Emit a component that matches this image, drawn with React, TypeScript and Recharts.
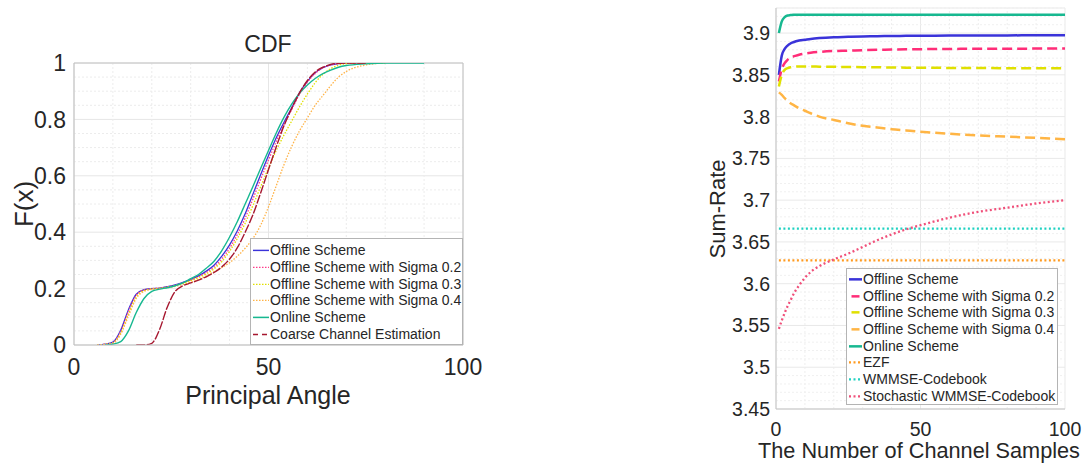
import React from 'react';
import { LineChart, Line, XAxis, YAxis, CartesianGrid, ReferenceLine } from 'recharts';

const FONT = '"Liberation Sans", Arial, Helvetica, sans-serif';
const TEXT = '#262626';

// ---------------- Left panel: CDF of the principal angle ----------------
const cdfAngle = [6, 8, 10, 12, 14, 16, 18, 20, 22, 24, 26, 28, 30, 32, 34, 36, 38, 40, 42, 44, 46, 48, 50, 52, 54, 56, 58, 60, 62, 64, 66, 68, 70, 75, 80, 90];
const cdfOffline = [0, 0.003, 0.01, 0.052, 0.125, 0.18, 0.196, 0.2, 0.202, 0.207, 0.213, 0.222, 0.232, 0.245, 0.262, 0.283, 0.315, 0.355, 0.405, 0.465, 0.535, 0.605, 0.672, 0.735, 0.79, 0.842, 0.895, 0.935, 0.965, 0.983, 0.993, 0.998, 1, 1, null, null];
const cdfSigma02 = [0, 0.003, 0.009, 0.048, 0.12, 0.177, 0.195, 0.2, 0.202, 0.206, 0.212, 0.22, 0.23, 0.242, 0.257, 0.276, 0.305, 0.343, 0.392, 0.45, 0.518, 0.588, 0.656, 0.722, 0.782, 0.836, 0.89, 0.932, 0.963, 0.983, 0.993, 0.998, 1, 1, null, null];
const cdfSigma03 = [0, 0.002, 0.007, 0.042, 0.11, 0.17, 0.193, 0.199, 0.201, 0.205, 0.21, 0.218, 0.228, 0.239, 0.252, 0.27, 0.296, 0.332, 0.378, 0.432, 0.495, 0.562, 0.628, 0.69, 0.745, 0.795, 0.845, 0.89, 0.93, 0.96, 0.98, 0.992, 0.998, 1, 1, null];
const cdfSigma04 = [0, 0.002, 0.006, 0.038, 0.103, 0.165, 0.19, 0.197, 0.2, 0.203, 0.208, 0.215, 0.222, 0.232, 0.245, 0.26, 0.275, 0.292, 0.315, 0.343, 0.378, 0.425, 0.49, 0.565, 0.64, 0.705, 0.76, 0.805, 0.85, 0.885, 0.92, 0.95, 0.97, 0.993, 1, null];
const cdfOnline = [null, 0, 0.003, 0.012, 0.05, 0.115, 0.165, 0.19, 0.198, 0.203, 0.21, 0.22, 0.235, 0.25, 0.272, 0.297, 0.335, 0.383, 0.438, 0.5, 0.562, 0.627, 0.69, 0.752, 0.808, 0.855, 0.893, 0.922, 0.945, 0.962, 0.975, 0.985, 0.991, 0.997, 1, 1];
const cdfCoarse = [null, null, null, null, null, 0, 0, 0.006, 0.055, 0.135, 0.19, 0.21, 0.22, 0.23, 0.242, 0.257, 0.277, 0.305, 0.345, 0.4, 0.462, 0.54, 0.622, 0.703, 0.778, 0.84, 0.895, 0.938, 0.968, 0.985, 0.995, 0.999, 1, 1, null, null];

const cdfXTicks = [0, 50, 100];
const cdfYTicks = [0, 0.2, 0.4, 0.6, 0.8, 1];
const cdfMinorX = [10, 20, 30, 40, 60, 70, 80, 90];
const cdfMinorY = [0.05, 0.1, 0.15, 0.25, 0.3, 0.35, 0.45, 0.5, 0.55, 0.65, 0.7, 0.75, 0.85, 0.9, 0.95];

// ---------------- Right panel: Sum-Rate vs number of channel samples ----------------
const samples = [1, 2, 3, 4, 5, 6, 8, 10, 12, 15, 20, 25, 30, 35, 40, 45, 50, 60, 70, 80, 90, 100];
const rateOffline = [3.85, 3.873, 3.881, 3.885, 3.8875, 3.889, 3.891, 3.892, 3.893, 3.894, 3.895, 3.8955, 3.896, 3.8962, 3.8965, 3.8967, 3.8968, 3.897, 3.8971, 3.8972, 3.8973, 3.8974];
const rateSigma02 = [3.842, 3.857, 3.864, 3.868, 3.871, 3.872, 3.874, 3.8755, 3.8765, 3.8775, 3.8785, 3.879, 3.8795, 3.88, 3.8802, 3.8805, 3.8807, 3.881, 3.8812, 3.8813, 3.8814, 3.8815];
const rateSigma03 = [3.836, 3.85, 3.856, 3.858, 3.859, 3.8595, 3.86, 3.86, 3.86, 3.8598, 3.8596, 3.8594, 3.8592, 3.859, 3.8588, 3.8586, 3.8585, 3.8583, 3.8581, 3.858, 3.8579, 3.8578];
const rateSigma04 = [3.829, 3.826, 3.822, 3.819, 3.816, 3.814, 3.81, 3.807, 3.804, 3.8, 3.796, 3.792, 3.789, 3.787, 3.785, 3.7835, 3.782, 3.7795, 3.7775, 3.776, 3.7745, 3.773];
const rateOnline = [3.9, 3.914, 3.919, 3.921, 3.9215, 3.922, 3.922, 3.922, 3.922, 3.922, 3.922, 3.922, 3.922, 3.922, 3.922, 3.922, 3.922, 3.922, 3.922, 3.922, 3.922, 3.922];
const rateStochastic = [3.546, 3.556, 3.565, 3.573, 3.58, 3.587, 3.598, 3.607, 3.614, 3.621, 3.629, 3.636, 3.644, 3.652, 3.659, 3.665, 3.67, 3.679, 3.686, 3.691, 3.696, 3.7];
const flatSamples = [1, 100];
const rateEZF = [3.628, 3.628];
const rateWMMSE = [3.666, 3.666];

const rateXTicks = [0, 50, 100];
const rateYTicks = [3.45, 3.5, 3.55, 3.6, 3.65, 3.7, 3.75, 3.8, 3.85, 3.9];
const rateMinorX = [10, 20, 30, 40, 60, 70, 80, 90];
const rateMinorY = [3.46, 3.47, 3.48, 3.49, 3.51, 3.52, 3.53, 3.54, 3.56, 3.57, 3.58, 3.59, 3.61, 3.62, 3.63, 3.64, 3.66, 3.67, 3.68, 3.69, 3.71, 3.72, 3.73, 3.74, 3.76, 3.77, 3.78, 3.79, 3.81, 3.82, 3.83, 3.84, 3.86, 3.87, 3.88, 3.89, 3.91, 3.92, 3.93];

const cdfData = cdfAngle.map((x, i) => ({
  x,
  offline: cdfOffline[i],
  s02: cdfSigma02[i],
  s03: cdfSigma03[i],
  s04: cdfSigma04[i],
  online: cdfOnline[i],
  coarse: cdfCoarse[i],
}));

const rateData = samples.map((x, i) => ({
  x,
  offline: rateOffline[i],
  s02: rateSigma02[i],
  s03: rateSigma03[i],
  s04: rateSigma04[i],
  online: rateOnline[i],
  stoch: rateStochastic[i],
}));
const ezfData = flatSamples.map((x, i) => ({ x, y: rateEZF[i] }));
const wmmseData = flatSamples.map((x, i) => ({ x, y: rateWMMSE[i] }));

const fmt = (v: number) => String(Number(v.toFixed(2)));

type Series = { key: string; name: string; color: string; width: number; dash?: string; legendDash?: string; legendLen?: number };

const cdfSeries: Series[] = [
  { key: 'offline', name: 'Offline Scheme', color: '#3a33d9', width: 1.3 },
  { key: 's02', name: 'Offline Scheme with Sigma 0.2', color: '#ff3d8b', width: 1.3, dash: '1.5 1.5', legendDash: '1.5 1.5' },
  { key: 's03', name: 'Offline Scheme with Sigma 0.3', color: '#e0e000', width: 1.3, dash: '1.5 1.5', legendDash: '1.5 1.5' },
  { key: 's04', name: 'Offline Scheme with Sigma 0.4', color: '#ffb347', width: 1.3, dash: '1.5 1.5', legendDash: '1.5 1.5' },
  { key: 'online', name: 'Online Scheme', color: '#17b890', width: 1.4 },
  { key: 'coarse', name: 'Coarse Channel Estimation', color: '#a6172f', width: 1.4, dash: '9 1.5', legendDash: '5 4' },
];

const rateSeries: Series[] = [
  { key: 'offline', name: 'Offline Scheme', color: '#3a33d9', width: 2.5 },
  { key: 's02', name: 'Offline Scheme with Sigma 0.2', color: '#ff2d78', width: 2.5, dash: '10 5', legendLen: 8 },
  { key: 's03', name: 'Offline Scheme with Sigma 0.3', color: '#e0e000', width: 2.5, dash: '10 5', legendLen: 8 },
  { key: 's04', name: 'Offline Scheme with Sigma 0.4', color: '#ffb545', width: 2.5, dash: '10 5', legendLen: 8 },
  { key: 'online', name: 'Online Scheme', color: '#17b890', width: 2.5 },
  { key: 'ezf', name: 'EZF', color: '#ff9a1f', width: 2.3, dash: '2 2.5', legendDash: '2 2.5' },
  { key: 'wmmse', name: 'WMMSE-Codebook', color: '#1fd1c1', width: 2.3, dash: '2 2.5', legendDash: '2 2.5' },
  { key: 'stoch', name: 'Stochastic WMMSE-Codebook', color: '#f0507a', width: 2.3, dash: '2 2.5', legendDash: '2 2.5' },
];

function LegendBox({ items, left, top, width, height, rowH, padTop, sampleW, strokeScale }: any) {
  return (
    <div
      style={{
        position: 'absolute', left, top, width, height, boxSizing: 'border-box',
        border: '1px solid #b4b4b4', background: '#fff', paddingTop: padTop,
        fontFamily: FONT, fontSize: 14, color: TEXT,
      }}
    >
      {items.map((s: Series) => {
        const len = s.legendLen ?? sampleW - 3;
        const x1 = 2 + (sampleW - 3 - len) / 2;
        return (
          <div key={s.key} style={{ height: rowH, display: 'flex', alignItems: 'center', whiteSpace: 'nowrap' }}>
            <svg width={sampleW} height={rowH} style={{ flex: 'none' }}>
              <line x1={x1} x2={x1 + len} y1={rowH / 2} y2={rowH / 2} stroke={s.color}
                strokeWidth={s.width * strokeScale} strokeDasharray={s.legendDash} />
            </svg>
            <span style={{ lineHeight: `${rowH}px` }}>{s.name}</span>
          </div>
        );
      })}
    </div>
  );
}

function TextAt({ x, y, size, children, rotate }: any) {
  return (
    <div
      style={{
        position: 'absolute', left: x, top: y, fontFamily: FONT, fontSize: size, color: TEXT,
        lineHeight: 1, whiteSpace: 'nowrap',
        transform: `translate(-50%, -50%)${rotate ? ' rotate(-90deg)' : ''}`,
      }}
    >
      {children}
    </div>
  );
}

export default function App() {
  return (
    <div style={{ position: 'absolute', left: 0, top: 0, width: 1086, height: 465, background: '#fff', overflow: 'hidden' }}>
      {/* Left chart */}
      <div style={{ position: 'absolute', left: 0, top: 0 }}>
        <LineChart width={500} height={465} data={cdfData} margin={{ top: 63, right: 37, bottom: 90, left: 44 }}>
          <CartesianGrid stroke="#e6e6e6" />
          {cdfMinorX.map((v) => (
            <ReferenceLine key={'cx' + v} x={v} stroke="#ececec" strokeDasharray="2 2" />
          ))}
          {cdfMinorY.map((v) => (
            <ReferenceLine key={'cy' + v} y={v} stroke="#ececec" strokeDasharray="2 2" />
          ))}
          <ReferenceLine y={1} stroke="#c2c2c2" />
          <ReferenceLine x={100} stroke="#c2c2c2" />
          <XAxis dataKey="x" type="number" domain={[0, 100]} ticks={cdfXTicks} allowDataOverflow
            height={30} tickSize={0} tickMargin={14} interval={0} tickFormatter={fmt}
            tick={{ fontSize: 23, fill: TEXT, fontFamily: FONT }} axisLine={{ stroke: '#bdbdbd' }} />
          <YAxis type="number" domain={[0, 1]} ticks={cdfYTicks} allowDataOverflow
            width={30} tickSize={0} tickMargin={8} interval={0} tickFormatter={fmt}
            tick={{ fontSize: 23, fill: TEXT, fontFamily: FONT }} axisLine={{ stroke: '#bdbdbd' }} />
          {cdfSeries.map((s) => (
            <Line key={s.key} dataKey={s.key} name={s.name} type="monotone" stroke={s.color}
              strokeWidth={s.width} strokeDasharray={s.dash} dot={false} activeDot={false}
              isAnimationActive={false} connectNulls={false} />
          ))}
        </LineChart>
        <TextAt x={268} y={44} size={23}>CDF</TextAt>
        <TextAt x={268} y={395} size={25}>Principal Angle</TextAt>
        <TextAt x={24} y={204} size={26} rotate>F(x)</TextAt>
        <LegendBox items={cdfSeries} left={250} top={238} width={213} height={107}
          rowH={16.8} padTop={3} sampleW={19} strokeScale={1.1} />
      </div>

      {/* Right chart */}
      <div style={{ position: 'absolute', left: 560, top: 0, width: 526, height: 465 }}>
        <LineChart width={526} height={465} data={rateData} margin={{ top: 8, right: 21, bottom: 31, left: 156 }}>
          <CartesianGrid stroke="#e9e9e9" />
          {rateMinorX.map((v) => (
            <ReferenceLine key={'rx' + v} x={v} stroke="#eeeeee" strokeDasharray="2 2" />
          ))}
          {rateMinorY.map((v) => (
            <ReferenceLine key={'ry' + v} y={v} stroke="#f0f0f0" strokeDasharray="2 2" />
          ))}
          <XAxis dataKey="x" type="number" domain={[0, 100]} ticks={rateXTicks} allowDataOverflow
            height={25} tickSize={0} tickMargin={13} interval={0} tickFormatter={fmt}
            tick={{ fontSize: 19.5, fill: TEXT, fontFamily: FONT }} axisLine={{ stroke: '#c4c4c4' }} />
          <YAxis type="number" domain={[3.45, 3.93]} ticks={rateYTicks} allowDataOverflow
            width={60} tickSize={0} tickMargin={6} interval={0} tickFormatter={fmt}
            tick={{ fontSize: 19.5, fill: TEXT, fontFamily: FONT }} axisLine={{ stroke: '#c4c4c4' }} />
          {rateSeries.slice(0, 5).map((s) => (
            <Line key={s.key} dataKey={s.key} name={s.name} type="monotone" stroke={s.color}
              strokeWidth={s.width} strokeDasharray={s.dash} dot={false} activeDot={false}
              isAnimationActive={false} />
          ))}
          <Line data={ezfData} dataKey="y" name="EZF" type="linear" stroke={rateSeries[5].color}
            strokeWidth={rateSeries[5].width} strokeDasharray={rateSeries[5].dash} dot={false} activeDot={false}
            isAnimationActive={false} />
          <Line data={wmmseData} dataKey="y" name="WMMSE-Codebook" type="linear" stroke={rateSeries[6].color}
            strokeWidth={rateSeries[6].width} strokeDasharray={rateSeries[6].dash} dot={false} activeDot={false}
            isAnimationActive={false} />
          <Line dataKey="stoch" name="Stochastic WMMSE-Codebook" type="monotone" stroke={rateSeries[7].color}
            strokeWidth={rateSeries[7].width} strokeDasharray={rateSeries[7].dash} dot={false} activeDot={false}
            isAnimationActive={false} />
        </LineChart>
        <TextAt x={158} y={209} size={22} rotate>Sum-Rate</TextAt>
        <TextAt x={359} y={451} size={21.7}>The Number of Channel Samples</TextAt>
        <LegendBox items={rateSeries} left={286} top={268} width={212} height={137}
          rowH={16.7} padTop={2} sampleW={16} strokeScale={1} />
      </div>
    </div>
  );
}
